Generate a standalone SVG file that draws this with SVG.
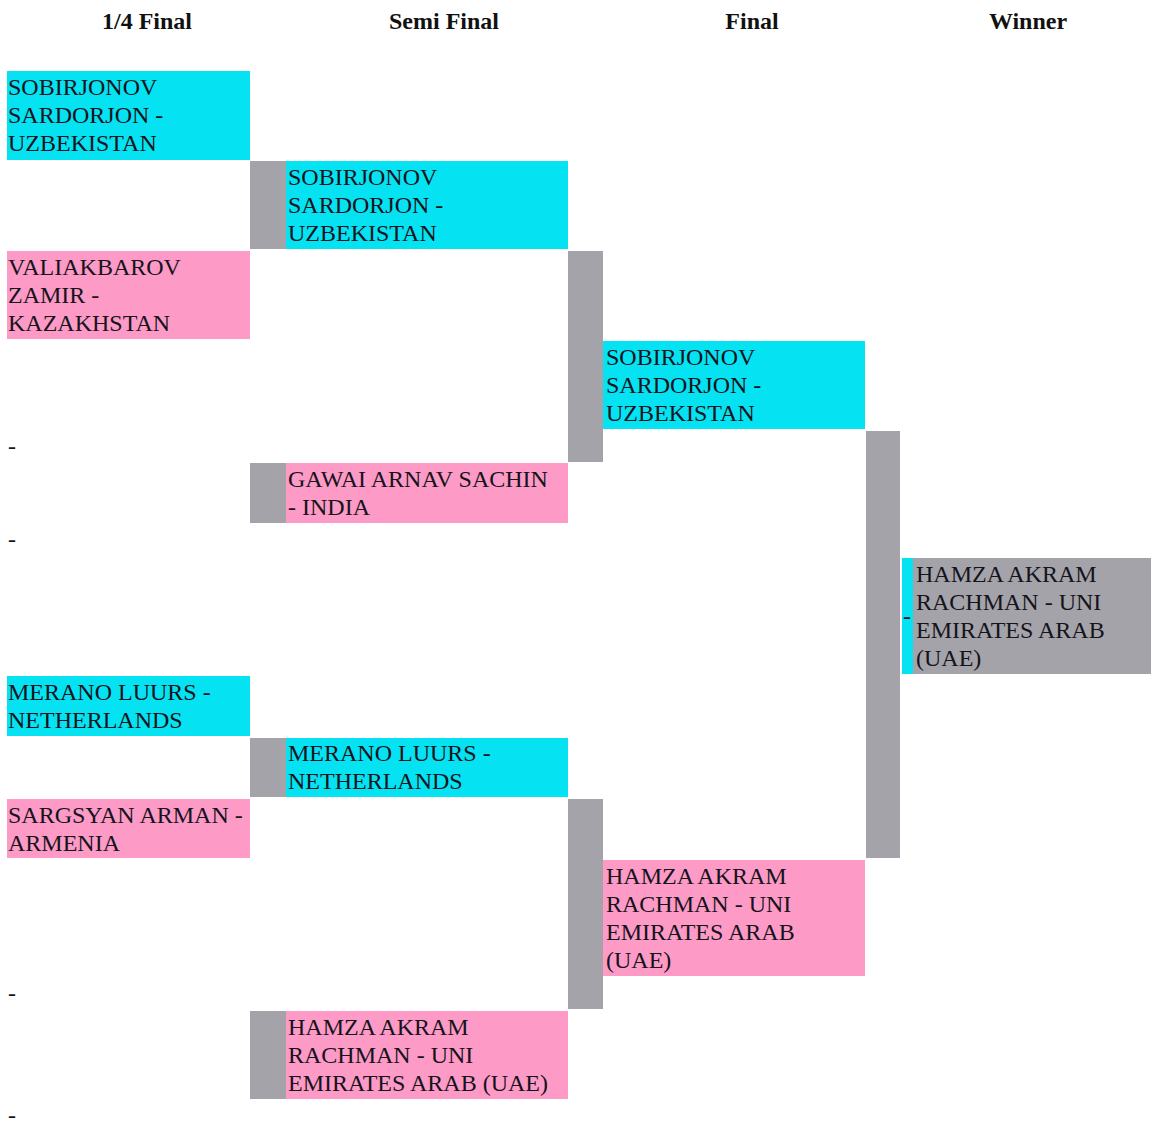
<svg xmlns="http://www.w3.org/2000/svg" width="1151" height="1130" viewBox="0 0 1151 1130">
<style>
.t{font-family:'Liberation Serif','Times New Roman',Times,'DejaVu Serif',serif;font-size:24px;fill:#15131c}
.h{font-family:'Liberation Serif','Times New Roman',Times,'DejaVu Serif',serif;font-size:24px;font-weight:bold;fill:#111;text-anchor:middle}
.c{fill:#05E2F2}
.p{fill:#FD9AC6}
.g{fill:#A4A3A9}
</style>
<rect width="1151" height="1130" fill="#ffffff"/>
<g id="headers">
<text class="h" x="147" y="29">1/4 Final</text>
<text class="h" x="444" y="29">Semi Final</text>
<text class="h" x="752" y="29">Final</text>
<text class="h" x="1028" y="29">Winner</text>
</g>
<g id="connectors">
<rect class="g" x="250" y="161" width="36" height="88"/>
<rect class="g" x="250" y="463" width="36" height="60"/>
<rect class="g" x="250" y="738" width="36" height="59"/>
<rect class="g" x="250" y="1011" width="36" height="88"/>
<rect class="g" x="568" y="251" width="35" height="211"/>
<rect class="g" x="568" y="799" width="35" height="210"/>
<rect class="g" x="866" y="431" width="34" height="427"/>
</g>
<g id="q1">
<rect class="c" x="7" y="71" width="243" height="89"/>
<text class="t" x="8" y="95">SOBIRJONOV</text>
<text class="t" x="8" y="123">SARDORJON -</text>
<text class="t" x="8" y="151">UZBEKISTAN</text>
</g>
<g id="q2">
<rect class="p" x="7" y="251" width="243" height="88"/>
<text class="t" x="8" y="275">VALIAKBAROV</text>
<text class="t" x="8" y="303">ZAMIR -</text>
<text class="t" x="8" y="331">KAZAKHSTAN</text>
</g>
<g id="q3"><text class="t" x="8" y="454">-</text></g>
<g id="q4"><text class="t" x="8" y="547">-</text></g>
<g id="q5">
<rect class="c" x="7" y="676" width="243" height="60"/>
<text class="t" x="8" y="700">MERANO LUURS -</text>
<text class="t" x="8" y="728">NETHERLANDS</text>
</g>
<g id="q6">
<rect class="p" x="7" y="799" width="243" height="59"/>
<text class="t" x="8" y="823">SARGSYAN ARMAN -</text>
<text class="t" x="8" y="851">ARMENIA</text>
</g>
<g id="q7"><text class="t" x="8" y="1001">-</text></g>
<g id="q8"><text class="t" x="8" y="1123">-</text></g>
<g id="s1">
<rect class="c" x="286" y="161" width="282" height="88"/>
<text class="t" x="288" y="185">SOBIRJONOV</text>
<text class="t" x="288" y="213">SARDORJON -</text>
<text class="t" x="288" y="241">UZBEKISTAN</text>
</g>
<g id="s2">
<rect class="p" x="286" y="463" width="282" height="60"/>
<text class="t" x="288" y="487">GAWAI ARNAV SACHIN</text>
<text class="t" x="288" y="515">- INDIA</text>
</g>
<g id="s3">
<rect class="c" x="286" y="738" width="282" height="59"/>
<text class="t" x="288" y="761">MERANO LUURS -</text>
<text class="t" x="288" y="789">NETHERLANDS</text>
</g>
<g id="s4">
<rect class="p" x="286" y="1011" width="282" height="88"/>
<text class="t" x="288" y="1035">HAMZA AKRAM</text>
<text class="t" x="288" y="1063">RACHMAN - UNI</text>
<text class="t" x="288" y="1091">EMIRATES ARAB (UAE)</text>
</g>
<g id="f1">
<rect class="c" x="603" y="341" width="262" height="88"/>
<text class="t" x="606" y="365">SOBIRJONOV</text>
<text class="t" x="606" y="393">SARDORJON -</text>
<text class="t" x="606" y="421">UZBEKISTAN</text>
</g>
<g id="f2">
<rect class="p" x="603" y="860" width="262" height="116"/>
<text class="t" x="606" y="884">HAMZA AKRAM</text>
<text class="t" x="606" y="912">RACHMAN - UNI</text>
<text class="t" x="606" y="940">EMIRATES ARAB</text>
<text class="t" x="606" y="968">(UAE)</text>
</g>
<g id="winner">
<rect class="c" x="902" y="558" width="11" height="116"/>
<text class="t" x="907" y="624" text-anchor="middle">-</text>
<rect class="g" x="913" y="558" width="238" height="116"/>
<text class="t" x="916" y="582">HAMZA AKRAM</text>
<text class="t" x="916" y="610">RACHMAN - UNI</text>
<text class="t" x="916" y="638">EMIRATES ARAB</text>
<text class="t" x="916" y="666">(UAE)</text>
</g>
</svg>
